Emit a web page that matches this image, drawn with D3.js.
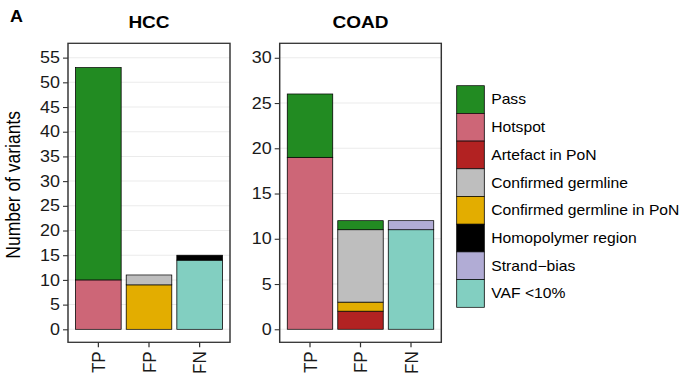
<!DOCTYPE html>
<html>
<head>
<meta charset="utf-8">
<script src="https://cdn.jsdelivr.net/npm/d3@7"></script>
<style>
  body { margin: 0; background: #fff; }
  svg { display: block; }
  text { font-family: "Liberation Sans", Arial, Helvetica, sans-serif; }
</style>
</head>
<body>
<div id="chart"></div>
<script>
// categories and filter statuses (legend order, top to bottom)
const categories = ["TP", "FP", "FN"];
const statuses = ["Pass", "Hotspot", "Artefact in PoN", "Confirmed germline",
  "Confirmed germline in PoN", "Homopolymer region", "Strand\u2212bias", "VAF <10%"];
const statusColors = ["#228b22", "#cd6677", "#b22222", "#bebebe",
  "#e3ad00", "#000000", "#b1acd5", "#82cfc1"];
// order of the segments inside a bar, bottom first
const stackOrder = ["VAF <10%", "Strand\u2212bias", "Homopolymer region", "Artefact in PoN",
  "Confirmed germline in PoN", "Confirmed germline", "Hotspot", "Pass"];

// counts per status, same order as statuses
const hccTP = [43, 10, 0, 0, 0, 0, 0, 0];
const hccFP = [0, 0, 0, 2, 9, 0, 0, 0];
const hccFN = [0, 0, 0, 0, 0, 1, 0, 14];
const coadTP = [7, 19, 0, 0, 0, 0, 0, 0];
const coadFP = [1, 0, 2, 8, 1, 0, 0, 0];
const coadFN = [0, 0, 0, 0, 0, 0, 1, 11];

const hccTicks = [0, 5, 10, 15, 20, 25, 30, 35, 40, 45, 50, 55];
const coadTicks = [0, 5, 10, 15, 20, 25, 30];

const W = 686, H = 377;
// the original figure is stretched sideways a little
const SX = 1.12;
const px = v => v / SX;
const TOP = 43.3, BOTTOM = 342.3;

const svg = d3.select("#chart").append("svg")
  .attr("width", W)
  .attr("height", H)
  .attr("viewBox", `0 0 ${W / SX} ${H}`)
  .attr("preserveAspectRatio", "none");

function toRows(tp, fp, fn) {
  return [tp, fp, fn].map((vals, i) => {
    const row = { cat: categories[i] };
    statuses.forEach((s, j) => row[s] = vals[j]);
    return row;
  });
}

const stack = d3.stack().keys(stackOrder);
const colorOf = d3.scaleOrdinal().domain(statuses).range(statusColors);

function panel(title, rows, left, right, domain, ticks) {
  const g = svg.append("g");

  const x = d3.scaleBand()
    .domain(categories)
    .range([px(left), px(right)])
    .paddingInner(0.1)
    .paddingOuter(0.15);

  const y = d3.scaleLinear()
    .domain(domain)
    .range([BOTTOM, TOP]);

  // grid
  g.selectAll("line.grid")
    .data(ticks)
    .enter().append("line")
    .attr("class", "grid")
    .attr("x1", px(left)).attr("x2", px(right))
    .attr("y1", d => y(d)).attr("y2", d => y(d))
    .attr("stroke", "#ebebeb")
    .attr("stroke-width", 1);

  // bars
  const series = stack(rows);
  g.selectAll("g.layer")
    .data(series)
    .enter().append("g")
    .attr("class", "layer")
    .attr("fill", d => colorOf(d.key))
    .selectAll("rect")
    .data(d => d.filter(p => p[1] - p[0] > 0))
    .enter().append("rect")
    .attr("x", d => x(d.data.cat))
    .attr("width", x.bandwidth())
    .attr("y", d => y(d[1]))
    .attr("height", d => y(d[0]) - y(d[1]))
    .attr("stroke", "#000")
    .attr("stroke-width", 0.7);

  // panel border
  g.append("rect")
    .attr("x", px(left)).attr("y", TOP)
    .attr("width", px(right - left)).attr("height", BOTTOM - TOP)
    .attr("fill", "none")
    .attr("stroke", "#333")
    .attr("stroke-width", 1.3);

  // axes
  const yAxis = g.append("g")
    .attr("transform", `translate(${px(left)},0)`)
    .call(d3.axisLeft(y).tickValues(ticks).tickSize(px(5)).tickPadding(px(3)));
  yAxis.select(".domain").remove();
  yAxis.selectAll(".tick line").attr("stroke", "#333").attr("stroke-width", 1.1);
  yAxis.selectAll(".tick text")
    .attr("fill", "#1a1a1a")
    .style("font-size", "16px")
    .style("font-family", "'Liberation Sans', Arial, sans-serif");

  const xAxis = g.append("g")
    .attr("transform", `translate(0,${BOTTOM})`)
    .call(d3.axisBottom(x).tickSize(5).tickPadding(3));
  xAxis.select(".domain").remove();
  xAxis.selectAll(".tick line").attr("stroke", "#333").attr("stroke-width", 1.1);
  xAxis.selectAll(".tick text")
    .attr("fill", "#1a1a1a")
    .attr("transform", "rotate(-90)")
    .attr("x", -9).attr("y", 0).attr("dy", "0.35em")
    .attr("text-anchor", "end")
    .style("font-size", "17px")
    .style("font-family", "'Liberation Sans', Arial, sans-serif");

  g.append("text")
    .attr("x", px((left + right) / 2))
    .attr("y", 28)
    .attr("text-anchor", "middle")
    .attr("font-weight", "bold")
    .attr("font-size", 17)
    .text(title);
}

panel("HCC", toRows(hccTP, hccFP, hccFN), 68, 230, [-2.63, 57.9], hccTicks);
panel("COAD", toRows(coadTP, coadFP, coadFN), 279.7, 441.3, [-1.44, 31.6], coadTicks);

// y title
svg.append("text")
  .attr("transform", `translate(${px(20)},${(TOP + BOTTOM) / 2 - 8}) rotate(-90)`)
  .attr("text-anchor", "middle")
  .attr("font-size", 17.5)
  .attr("fill", "#000")
  .text("Number of variants");

// panel tag
svg.append("text")
  .attr("x", px(10)).attr("y", 22)
  .attr("font-weight", "bold")
  .attr("font-size", 16)
  .text("A");

// legend
const KEY = 27.7;
const legend = svg.append("g").attr("transform", `translate(${px(456.7)},85.7)`);
const items = legend.selectAll("g")
  .data(statuses)
  .enter().append("g")
  .attr("transform", (d, i) => `translate(0,${i * KEY})`);
items.append("rect")
  .attr("width", px(27.6)).attr("height", KEY)
  .attr("fill", d => colorOf(d))
  .attr("stroke", "#000")
  .attr("stroke-width", 0.7);
items.append("text")
  .attr("x", px(34.5)).attr("y", KEY / 2)
  .attr("dy", "0.35em")
  .attr("font-size", 14)
  .text(d => d);
</script>
</body>
</html>
